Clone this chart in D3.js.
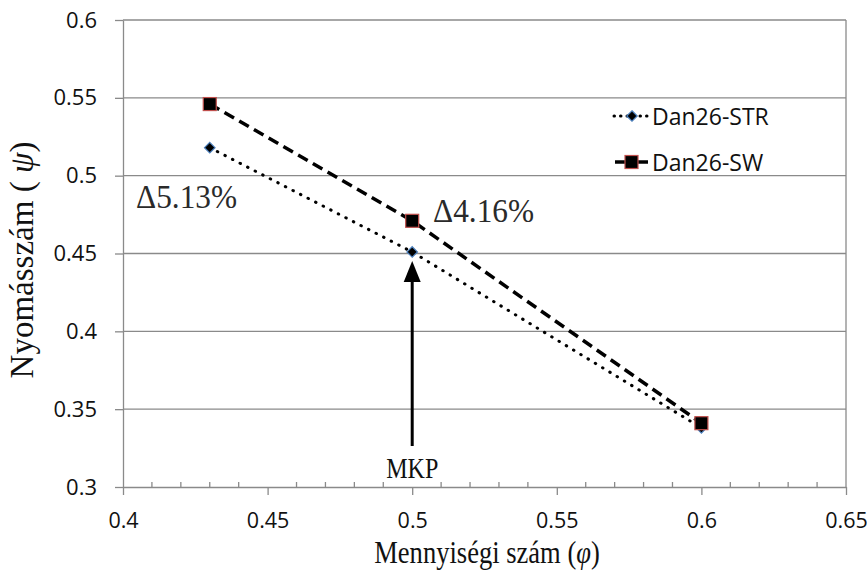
<!DOCTYPE html>
<html><head><meta charset="utf-8">
<script src="https://cdn.jsdelivr.net/npm/d3@7"></script>
<style>body{margin:0;background:#fff}</style>
</head><body>
<svg id="c" width="867" height="576"></svg>
<script>
const xValues = [0.43, 0.5, 0.6];
const strValues = [0.518, 0.451, 0.338];
const swValues = [0.546, 0.471, 0.341];
const seriesNames = ["Dan26-STR", "Dan26-SW"];
const xTicks = [0.4, 0.45, 0.5, 0.55, 0.6, 0.65];
const yTicks = [0.3, 0.35, 0.4, 0.45, 0.5, 0.55, 0.6];
const annotations = [{x:0.43, y:0.5, text:"Δ5.13%"}, {x:0.5, y:0.475, text:"Δ4.16%"}];

const svg = d3.select("#c");
const x = d3.scaleLinear().domain([0.4, 0.65]).range([123, 846]);
const y = d3.scaleLinear().domain([0.3, 0.6]).range([487, 20]);
const sans = "'Open Sans', sans-serif";
const serif = "'Liberation Serif', 'Times New Roman', serif";
const grid = "#8a8a8a";

// gridlines
svg.append("g").selectAll("line").data(yTicks.filter(d => d > 0.3)).join("line")
  .attr("x1", x(0.4)).attr("x2", x(0.65)).attr("y1", d => y(d)).attr("y2", d => y(d))
  .attr("stroke", grid).attr("stroke-width", 1.3);
svg.append("line").attr("x1", x(0.65)).attr("x2", x(0.65)).attr("y1", y(0.6)).attr("y2", y(0.3))
  .attr("stroke", grid).attr("stroke-width", 1.3);

// y axis
const yAxis = svg.append("g").attr("transform", `translate(${x(0.4)},0)`)
  .call(d3.axisLeft(y).tickValues(yTicks).tickFormat(d3.format("")).tickSize(8).tickSizeOuter(0));
yAxis.select(".domain").attr("stroke", grid).attr("stroke-width", 1.3);
yAxis.selectAll(".tick line").attr("stroke", grid).attr("stroke-width", 1.3);
yAxis.selectAll("text").attr("font-family", sans).attr("font-size", 22).attr("fill", "#111").attr("x", -26);

// x axis minor ticks
const minor = d3.range(0.4, 0.6501, 0.01).filter(v => Math.abs(v*20 - Math.round(v*20)) > 1e-6);
svg.append("g").selectAll("line").data(minor).join("line")
  .attr("x1", d => x(d)).attr("x2", d => x(d)).attr("y1", y(0.3) - 5).attr("y2", y(0.3))
  .attr("stroke", grid).attr("stroke-width", 1.3);
const xAxis = svg.append("g").attr("transform", `translate(0,${y(0.3)})`)
  .call(d3.axisBottom(x).tickValues(xTicks).tickFormat(d3.format("")).tickSize(8).tickSizeOuter(0));
xAxis.select(".domain").attr("stroke", grid).attr("stroke-width", 1.3);
xAxis.selectAll(".tick line").attr("stroke", grid).attr("stroke-width", 1.3);
xAxis.selectAll("text").attr("font-family", sans).attr("font-size", 21.5).attr("fill", "#111").attr("y", 26);

// axis titles
const yt = svg.append("text").attr("transform", `translate(33,260) rotate(-90)`)
  .attr("text-anchor", "middle").attr("font-family", serif).attr("font-size", 33).attr("fill", "#111");
yt.append("tspan").text("Nyomásszám ( ");
yt.append("tspan").attr("font-style", "italic").text("ψ");
yt.append("tspan").text(")");
const xt = svg.append("text").attr("transform", "translate(487,563) scale(0.83,1)")
  .attr("text-anchor", "middle").attr("font-family", serif).attr("font-size", 32).attr("fill", "#111");
xt.append("tspan").text("Mennyiségi szám (");
xt.append("tspan").attr("font-style", "italic").text("φ");
xt.append("tspan").text(")");

// lines
const line = d3.line().x(d => x(d[0])).y(d => y(d[1]));
const strData = xValues.map((v, i) => [v, strValues[i]]);
const swData = xValues.map((v, i) => [v, swValues[i]]);
svg.append("path").datum(strData).attr("d", line).attr("fill", "none")
  .attr("stroke", "#000").attr("stroke-width", 3).attr("stroke-dasharray", "0.5,8").attr("stroke-linecap", "round");
svg.append("path").datum(swData).attr("d", line).attr("fill", "none")
  .attr("stroke", "#000").attr("stroke-width", 3.5).attr("stroke-dasharray", "11,6");

// markers
const diamond = d3.symbol().type(d3.symbolDiamond2).size(70);
svg.append("g").selectAll("path").data(strData).join("path")
  .attr("transform", d => `translate(${x(d[0])},${y(d[1])})`).attr("d", diamond)
  .attr("fill", "#000").attr("stroke", "#4a7ebb").attr("stroke-width", 1.2);
svg.append("g").selectAll("rect").data(swData).join("rect")
  .attr("x", d => x(d[0]) - 6.5).attr("y", d => y(d[1]) - 6.5).attr("width", 13).attr("height", 13)
  .attr("fill", "#000").attr("stroke", "#c0504d").attr("stroke-width", 1.2);

// annotations
const annPos = [[136, 208], [433, 222]];
svg.append("g").selectAll("text").data(annotations).join("text")
  .attr("transform", (d, i) => `translate(${annPos[i][0]},${annPos[i][1]}) scale(0.95,1)`)
  .attr("font-family", serif).attr("font-size", 33).attr("fill", "#2a2a2a").text(d => d.text);

// arrow + MKP
const ax = x(0.5);
svg.append("line").attr("x1", ax).attr("x2", ax).attr("y1", 446).attr("y2", 278)
  .attr("stroke", "#000").attr("stroke-width", 3);
svg.append("path").attr("d", `M${ax},261 L${ax-8.5},282 L${ax+8.5},282 Z`).attr("fill", "#000");
svg.append("text").attr("transform", `translate(${ax},478) scale(0.83,1)`).attr("text-anchor", "middle")
  .attr("font-family", serif).attr("font-size", 29).attr("fill", "#111").text("MKP");

// legend
const lg = svg.append("g");
const ly = [116, 162];
lg.append("line").attr("x1", 614).attr("x2", 650).attr("y1", ly[0]).attr("y2", ly[0])
  .attr("stroke", "#000").attr("stroke-width", 3).attr("stroke-dasharray", "0.5,6").attr("stroke-linecap", "round");
lg.append("path").attr("transform", `translate(632,${ly[0]})`).attr("d", diamond)
  .attr("fill", "#000").attr("stroke", "#4a7ebb").attr("stroke-width", 1.2);
lg.append("line").attr("x1", 615).attr("x2", 648).attr("y1", ly[1]).attr("y2", ly[1])
  .attr("stroke", "#000").attr("stroke-width", 3.5);
lg.append("rect").attr("x", 625).attr("y", ly[1] - 6.5).attr("width", 13).attr("height", 13)
  .attr("fill", "#000").attr("stroke", "#c0504d").attr("stroke-width", 1.2);
lg.selectAll("text.l").data(seriesNames).join("text").attr("class", "l")
  .attr("x", 652).attr("y", (d, i) => ly[i] + 8.5)
  .attr("font-family", sans).attr("font-size", 23).attr("fill", "#111").text(d => d);
</script>
</body></html>
